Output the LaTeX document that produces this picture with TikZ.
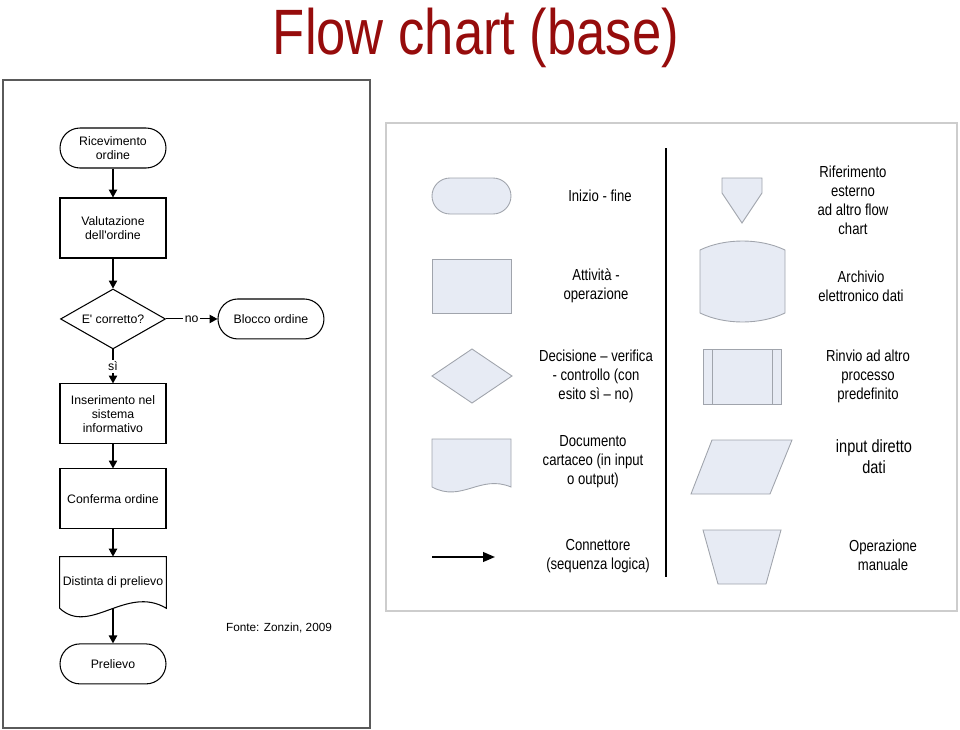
\documentclass[tikz,border=0pt]{standalone}
\usepackage{fontspec}
\setmainfont{Liberation Sans}
\newfontfamily\narrowfont[FakeStretch=0.82]{Liberation Sans}
\usetikzlibrary{positioning,shapes.geometric,arrows.meta}
\definecolor{titlered}{RGB}{150,12,12}
\definecolor{legendfill}{RGB}{231,235,244}
\definecolor{legendline}{RGB}{160,164,172}
\definecolor{panelgray}{RGB}{205,205,205}
\definecolor{framegray}{RGB}{90,90,90}

\tikzset{
  chartfont/.style={font=\fontsize{7}{8}\selectfont},
  flowline/.style={line width=0.6pt,-{Triangle[length=4.5pt,width=4.8pt]}},
  terminal/.style={draw,line width=0.6pt,rounded corners=0.4cm,minimum width=2.12cm,
    minimum height=0.8cm,align=center,chartfont},
  activity/.style={draw,line width=0.6pt,minimum width=2.12cm,minimum height=1.2cm,
    align=center,chartfont},
  decision/.style={draw,diamond,aspect=1.75,line width=0.6pt,minimum width=2.1cm,
    minimum height=1.2cm,inner sep=0pt,chartfont},
  paperdoc/.style={minimum width=2.12cm,minimum height=1.02cm,inner sep=0.5pt,
    align=center,chartfont},
  legendtext/.style={align=center,font=\narrowfont\fontsize{9.1}{10.8}\selectfont},
  legendshape/.style={draw=legendline,fill=legendfill,line width=0.5pt},
}

\begin{document}
\begin{tikzpicture}[x=0.02cm,y=-0.02cm,node distance=1.6cm]
  \useasboundingbox (0,0) rectangle (960,730);
  % title
  \node[anchor=base,text=titlered,font=\narrowfont\fontsize{36.5}{40}\selectfont] (title) at (476,54) {Flow chart (base)};

  % left panel: example chart
  \draw[framegray,line width=0.6pt] (3,80) rectangle (370,728);
  \node[terminal] (ric) at (113,148) {Ricevimento\\ordine};
  \node[activity] (val) [below of=ric] {Valutazione\\dell\textquotesingle ordine};
  \node[decision] (dec) [below of=val,node distance=1.82cm] {E\textquotesingle\ corretto?};
  \node[terminal] (blk) [right of=dec,node distance=3.16cm] {Blocco ordine};
  \node[activity] (ins) [below of=dec,node distance=1.9cm] {Inserimento nel\\sistema\\informativo};
  \node[activity] (conf) [below of=ins,node distance=1.7cm] {Conferma ordine};
  \node[paperdoc] (dist) [below of=conf,node distance=1.67cm] {Distinta di prelievo};
  \draw[line width=0.6pt] (dist.south west) -- (dist.north west) -- (dist.north east)
    -- (dist.south east) .. controls +(-40,-24) and +(30,28) .. (dist.south west);
  \node[terminal] (prel) [below of=dist,node distance=1.63cm] {Prelievo};

  \draw[flowline] (ric) -- (val);
  \draw[flowline] (val) -- (dec);
  \draw[flowline] (dec) -- node[fill=white,inner sep=1pt,chartfont] {no} (blk);
  \draw[flowline] (dec) -- node[fill=white,inner sep=1pt,chartfont] {sì} (ins);
  \draw[flowline] (ins) -- (conf);
  \draw[flowline] (conf) -- (dist);
  \draw[flowline] (dist) -- (prel);

  \node[font=\fontsize{6.7}{8}\selectfont] (fonte) at (279,628) {Fonte: Zonzin, 2009};

  % right panel: legend
  \draw[panelgray,line width=0.6pt] (386,123) rectangle (957,611);
  \draw[line width=1.4pt] (666,148) -- (666,577);

  \draw[legendshape,rounded corners=0.36cm] (432,178) rectangle (511,214);
  \draw[legendshape] (432,259) rectangle (511,313);
  \draw[legendshape] (432,376) -- (472,349) -- (512,376) -- (472,403) -- cycle;
  \draw[legendshape] (432,487) -- (432,439) -- (511,439) -- (511,487)
    .. controls (480,474) and (462,503) .. cycle;
  \coordinate (cstart) at (432,557);
  \coordinate (cend) at (495,557);
  \draw[line width=1.1pt,-{Triangle[length=6.8pt,width=5.5pt]}] (cstart) -- (cend);

  \draw[legendshape] (722,178) -- (762,178) -- (762,193) -- (742,223) -- (722,193) -- cycle;
  \draw[legendshape] (700,250) .. controls (725,238) and (760,238) .. (785,250) -- (785,313)
    .. controls (760,325) and (725,325) .. (700,313) -- cycle;
  \draw[legendshape] (703,349) rectangle (781,404);
  \draw[legendline,line width=0.5pt] (712,349) -- (712,404) (772,349) -- (772,404);
  \draw[legendshape] (712,440) -- (792,440) -- (770,494) -- (691,494) -- cycle;
  \draw[legendshape] (703,530) -- (781,530) -- (766,584) -- (718,584) -- cycle;

  \node[legendtext] (t1) at (600,196) {Inizio - fine};
  \node[legendtext] (t2) at (596,286) {Attività -\\operazione};
  \node[legendtext] (t3) at (596,376) {Decisione – verifica\\- controllo (con\\esito sì – no)};
  \node[legendtext] (t4) at (593,462) {Documento\\cartaceo (in input\\o output)};
  \node[legendtext] (t5) at (598,556) {Connettore\\(sequenza logica)};
  \node[legendtext] (t6) at (853,200) {Riferimento\\esterno\\ad altro flow\\chart};
  \node[legendtext] (t7) at (861,286) {Archivio\\elettronico dati};
  \node[legendtext] (t8) at (868,376) {Rinvio ad altro\\processo\\predefinito};
  \node[legendtext,font=\narrowfont\fontsize{10.1}{11.8}\selectfont] (t9) at (874,457) {input diretto\\dati};
  \node[legendtext] (t10) at (883,555) {Operazione\\manuale};
\end{tikzpicture}
\end{document}
